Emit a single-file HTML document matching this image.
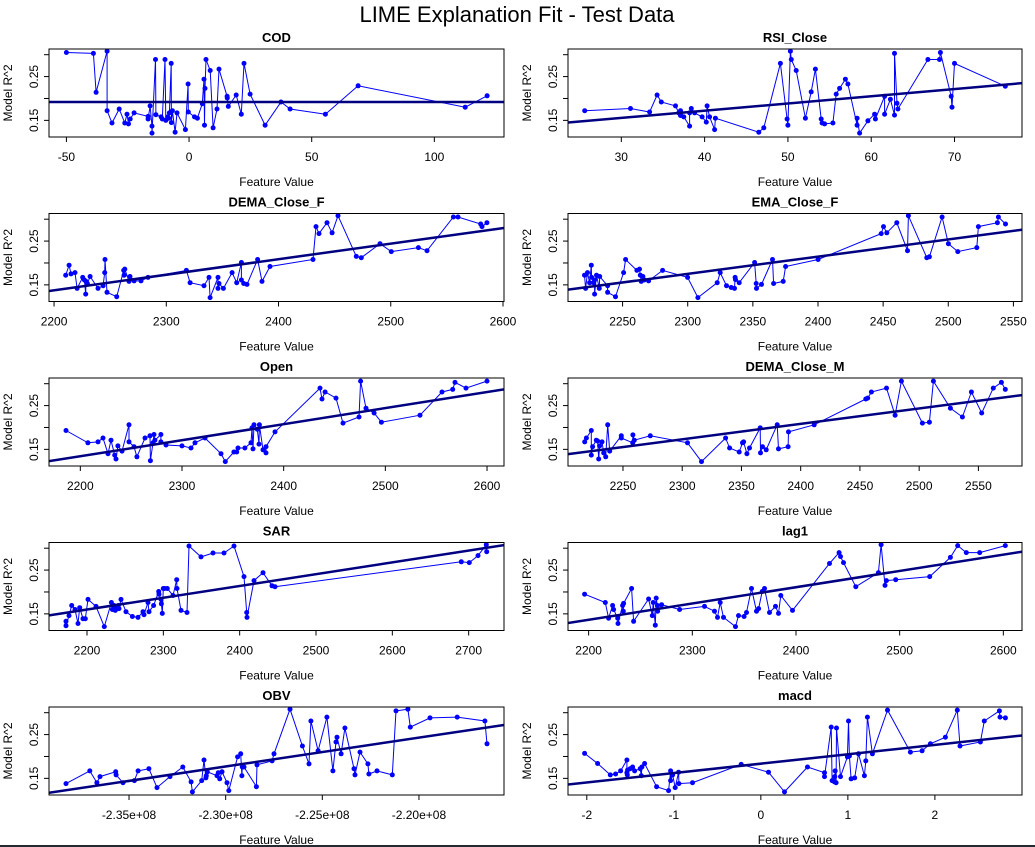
<!DOCTYPE html>
<html><head><meta charset="utf-8"><title>LIME Explanation Fit - Test Data</title>
<style>
html,body{margin:0;padding:0;background:#fff;}
svg{display:block;font-family:"Liberation Sans",Arial,sans-serif;}
</style></head>
<body>
<svg id="chart" width="1035" height="847" viewBox="0 0 1035 847" xmlns="http://www.w3.org/2000/svg">
<rect x="0" y="0" width="1035" height="847" fill="#fff"/>
<text x="517" y="22" text-anchor="middle" font-size="22" fill="#000">LIME Explanation Fit - Test Data</text>
<rect x="0" y="845" width="1035" height="2" fill="#222a33"/>
</svg>
<script>
// ---- data ----
const yTicks = [0.15, 0.20, 0.25, 0.30];
const yTickLabels = ["0.15", "", "0.25", ""];
const yDomain = [0.112, 0.313];

const codX = [-50,-39,-37.9,-33.4,-33.4,-31.4,-28.5,-26.2,-25.3,-24.7,-24,-22.4,-16.7,-16.7,-15.9,-15.1,-15.1,-13.7,-13.5,-11.4,-10.9,-9.8,-9.5,-8.7,-8.3,-8,-7.3,-7.2,-6.8,-5.7,-4.9,-1.5,-0.4,-0.3,2.2,3.4,5.4,6.1,6.3,6.5,6.9,8.6,9.8,11.4,12.2,15.5,15.6,16,19.2,21.3,22.4,24.9,31,37.5,41.2,55.6,68.9,112.6,121.5];
const codY = [.305,.303,.214,.308,.172,.144,.176,.144,.164,.142,.153,.167,.159,.153,.183,.137,.121,.289,.163,.158,.153,.289,.150,.158,.155,.167,.280,.145,.172,.123,.167,.129,.233,.169,.158,.155,.188,.244,.139,.223,.289,.264,.133,.176,.267,.205,.201,.182,.208,.164,.280,.210,.139,.192,.176,.164,.229,.180,.206];
const codTicks = [-50,0,50,100];
const codXDomain = [-57.1,128.4];
const codFit = [.192,.192];

const rsiX = [25.6,31.1,33.4,34.3,34.8,36.5,36.9,37.1,37.1,37.5,38.2,38.2,38.4,38.8,39.7,40.2,40.3,40.6,41.2,41.3,46.5,47.1,49.1,49.9,50,50.3,50.4,51,52.1,52.8,53.3,54,54.1,54.4,55.4,55.8,56.2,56.9,57.2,58.3,58.3,58.6,59.6,60.4,60.5,61.6,61.6,62.3,62.8,62.8,63.1,63.2,66.8,68.2,68.3,69.6,69.7,70,76.1];
const rsiY = [.172,.177,.169,.208,.192,.183,.167,.161,.172,.158,.137,.167,.177,.167,.158,.146,.183,.158,.129,.155,.123,.133,.280,.153,.139,.308,.289,.264,.155,.215,.267,.153,.144,.142,.144,.210,.223,.244,.233,.139,.155,.121,.149,.164,.153,.205,.164,.198,.162,.303,.189,.176,.289,.289,.305,.205,.180,.280,.228];
const rsiTicks = [30,40,50,60,70];
const rsiXDomain = [23.6,78.1];
const rsiFit = [.145,.235];

const demaFX = [2210.4,2213.4,2215.1,2218.7,2220.5,2225.5,2227,2228.2,2228.5,2229.7,2232.1,2239.2,2243.7,2245.1,2245.4,2247.2,2255.8,2262.1,2262.4,2263,2266.8,2267.7,2271.3,2277.5,2283.7,2317.9,2321.2,2333.6,2338.1,2339,2346.1,2346.1,2347,2350.9,2358.6,2362.7,2366.9,2366.9,2369,2371.9,2381.4,2385.3,2392.4,2430.7,2433.4,2436.1,2443.2,2447.7,2453,2469.3,2473.8,2490.4,2500.5,2524.6,2532.3,2555.8,2559.9,2580.1,2581.3,2585.7];
const demaFY = [.172,.195,.175,.178,.142,.167,.161,.129,.158,.153,.169,.142,.148,.178,.208,.133,.123,.183,.172,.186,.158,.169,.159,.159,.167,.183,.155,.148,.167,.121,.167,.142,.153,.142,.178,.155,.201,.161,.153,.151,.208,.158,.192,.208,.283,.267,.292,.269,.308,.215,.212,.244,.226,.235,.228,.305,.305,.289,.283,.292];
const demaFTicks = [2200,2300,2400,2500,2600];
const demaFXDomain = [2195.5,2600.9];
const demaFFit = [.136,.280];

const emaFX = [2220.8,2221.6,2223.1,2224.7,2226,2226.2,2227.7,2228.5,2228.5,2230,2232.1,2232.4,2238.5,2238.5,2244.6,2250.8,2252.3,2261,2263,2263.6,2264.3,2265.6,2266.6,2270,2280.7,2299.9,2307.8,2322.6,2324.9,2329.8,2333.4,2335.9,2336.4,2336.7,2339.5,2351.3,2352.6,2352.8,2356.6,2365.1,2365.9,2373.3,2375.1,2400.1,2448.5,2450.3,2452.8,2460.5,2468.7,2469.4,2483.5,2485.5,2495.3,2500.1,2507.3,2521.9,2523.1,2537.7,2538.5,2543.9];
const emaFY = [.172,.142,.178,.155,.195,.167,.155,.161,.129,.172,.142,.169,.148,.133,.123,.178,.208,.183,.186,.172,.158,.169,.161,.159,.183,.167,.121,.155,.178,.148,.144,.142,.167,.162,.155,.201,.153,.142,.151,.208,.153,.158,.192,.208,.267,.283,.269,.292,.228,.308,.212,.214,.305,.244,.226,.235,.283,.292,.305,.289];
const emaFTicks = [2250,2300,2350,2400,2450,2500,2550];
const emaFXDomain = [2208.1,2556.6];
const emaFFit = [.139,.276];

const openX = [2185.9,2207.5,2217.4,2222.3,2227.2,2230.2,2233.8,2235.1,2237,2241,2247.9,2247.9,2252.8,2255.7,2263.6,2268.5,2268.9,2271.5,2272.5,2273.4,2279.3,2279.3,2284.3,2300,2308.9,2312.8,2322.6,2338.4,2342.6,2351.1,2353.8,2355.1,2361.9,2367.9,2368.9,2369.8,2370.8,2374.1,2375.7,2376.1,2379.7,2382.6,2382.6,2391.5,2435.7,2437.7,2440.7,2451.5,2458.4,2474.1,2475.7,2481,2488.9,2496.1,2534.1,2555.7,2566.2,2568.5,2579.3,2600];
const openY = [.193,.165,.167,.176,.140,.171,.137,.128,.158,.146,.206,.167,.156,.133,.176,.181,.124,.165,.184,.171,.184,.167,.160,.158,.153,.165,.176,.140,.122,.144,.144,.153,.153,.165,.199,.151,.206,.196,.162,.206,.149,.142,.156,.190,.290,.265,.281,.267,.210,.224,.306,.244,.233,.212,.228,.281,.287,.303,.290,.306];
const openTicks = [2200,2300,2400,2500,2600];
const openXDomain = [2169.2,2616.7];
const openFit = [.123,.287];

const demaMX = [2217.7,2219.1,2223.3,2223.3,2224.4,2227.5,2228.6,2229.5,2230.3,2232.3,2233.7,2235.4,2237.1,2238.8,2248.6,2248.6,2258.2,2258.4,2259.6,2273.1,2304.5,2316.3,2336.6,2340,2348.1,2350.9,2351.8,2354.6,2356.8,2365.8,2366.1,2367.8,2370.9,2380.2,2381.3,2389.4,2389.7,2411.4,2455,2456.6,2459.7,2472.4,2479.7,2485,2502.7,2508.6,2512,2526.4,2536.5,2544.1,2552.8,2562.6,2569.4,2572.7];
const demaMY = [.167,.176,.193,.137,.156,.171,.169,.128,.158,.167,.142,.133,.206,.146,.181,.176,.165,.183,.171,.181,.165,.122,.176,.153,.144,.165,.167,.140,.153,.199,.142,.156,.149,.206,.151,.156,.190,.206,.265,.267,.281,.290,.228,.306,.210,.212,.306,.244,.224,.281,.233,.290,.303,.287];
const demaMTicks = [2250,2300,2350,2400,2450,2500,2550];
const demaMXDomain = [2203.6,2586.8];
const demaMFit = [.139,.274];

const sarX = [2172.5,2172.5,2176.4,2179.9,2184.3,2188.2,2190.4,2194.8,2197.8,2201.3,2211.8,2222.7,2231.9,2233.2,2235.4,2237.1,2238.4,2241,2241.9,2244.5,2251.1,2259.4,2266.8,2273.4,2274.7,2279.9,2281.2,2287.3,2293.9,2294.3,2296.9,2297.4,2298.7,2300,2301.7,2305.2,2312.7,2317.5,2317.9,2323.1,2331,2333.6,2349.3,2365.1,2379.5,2392.6,2405.7,2409.2,2409.6,2418.8,2430.6,2442.4,2446.3,2690.4,2700.9,2712.2,2723.1,2723.6];
const sarY = [.133,.123,.146,.169,.160,.128,.164,.139,.139,.183,.167,.121,.176,.160,.169,.158,.162,.169,.162,.183,.155,.144,.142,.155,.148,.176,.155,.169,.201,.195,.183,.173,.151,.208,.208,.208,.192,.228,.208,.158,.153,.305,.280,.289,.289,.305,.235,.153,.142,.226,.244,.214,.212,.269,.267,.283,.308,.292];
const sarTicks = [2200,2300,2400,2500,2600,2700];
const sarXDomain = [2150.2,2746.3];
const sarFit = [.1465,.307];

const lagX = [2196.1,2216.1,2219.3,2223.1,2224.1,2228,2228.3,2232.8,2233.4,2233.7,2241.4,2243.4,2257.8,2261.4,2262.3,2264.3,2265.2,2266.2,2266.5,2270.4,2287.7,2311.8,2321.4,2324.3,2326.9,2330.1,2341.7,2344.6,2350,2352.3,2357.1,2361.9,2363.9,2367.4,2369.6,2374.5,2380.2,2383.1,2385.4,2396.6,2432.3,2441.6,2442.9,2445.8,2457.7,2479.5,2482.1,2485.9,2487.2,2496.2,2529,2548.9,2556,2564.3,2577.2,2601.9];
const lagY = [.195,.176,.140,.169,.160,.140,.128,.169,.156,.174,.208,.133,.184,.146,.176,.124,.186,.169,.156,.171,.160,.167,.156,.142,.176,.142,.121,.146,.144,.153,.208,.156,.162,.201,.208,.153,.167,.151,.192,.158,.265,.290,.281,.267,.212,.244,.308,.215,.226,.228,.235,.279,.306,.290,.290,.306];
const lagTicks = [2200,2300,2400,2500,2600];
const lagXDomain = [2180.1,2618];
const lagFit = [.129,.292];

// OBV values in units of 1e8
const obvX = [-2.3826,-2.3703,-2.3666,-2.3650,-2.3569,-2.3567,-2.3531,-2.3472,-2.3453,-2.3397,-2.3355,-2.3288,-2.3222,-2.3179,-2.3172,-2.3124,-2.3112,-2.3102,-2.3100,-2.3095,-2.3045,-2.3038,-2.3031,-2.3019,-2.2993,-2.2984,-2.2938,-2.2922,-2.2916,-2.2914,-2.2905,-2.2841,-2.2838,-2.2760,-2.2750,-2.2667,-2.2603,-2.2569,-2.2559,-2.2522,-2.2476,-2.2445,-2.2429,-2.2424,-2.2403,-2.2383,-2.2336,-2.2331,-2.2305,-2.2264,-2.2259,-2.2217,-2.2138,-2.2119,-2.2057,-2.2045,-2.1943,-2.1802,-2.1659,-2.1648];
const obvY = [.138,.167,.140,.154,.165,.158,.140,.145,.167,.172,.129,.154,.176,.142,.119,.145,.192,.151,.156,.165,.156,.163,.149,.165,.140,.122,.199,.206,.156,.176,.176,.131,.181,.190,.206,.308,.224,.183,.281,.213,.290,.167,.233,.244,.206,.265,.172,.158,.210,.183,.160,.167,.158,.304,.308,.267,.288,.290,.281,.229];
const obvTicks = [-2.35,-2.30,-2.25,-2.20];
const obvTickLabels = ["-2.35e+08","-2.30e+08","-2.25e+08","-2.20e+08"];
const obvXDomain = [-2.3914,-2.156];
const obvFit = [.117,.272];

const macdX = [-2.025,-1.876,-1.730,-1.669,-1.611,-1.539,-1.539,-1.535,-1.531,-1.501,-1.474,-1.451,-1.386,-1.374,-1.367,-1.336,-1.198,-1.060,-1.037,-1.037,-1.014,-0.984,-0.945,-0.942,-0.785,-0.226,0.088,0.272,0.536,0.731,0.731,0.808,0.819,0.846,0.850,0.854,0.865,0.869,0.915,0.995,1.007,1.018,1.037,1.079,1.122,1.190,1.206,1.225,1.282,1.455,1.719,1.853,1.948,2.121,2.258,2.289,2.523,2.568,2.741,2.748,2.810];
const macdY = [.207,.184,.158,.160,.167,.192,.163,.158,.169,.172,.176,.167,.172,.156,.176,.184,.131,.122,.167,.145,.158,.129,.164,.138,.140,.182,.164,.119,.176,.163,.154,.267,.145,.142,.154,.167,.140,.265,.154,.199,.281,.201,.149,.151,.206,.156,.190,.290,.206,.306,.210,.213,.229,.244,.306,.224,.233,.281,.304,.290,.288];
const macdTicks = [-2,-1,0,1,2];
const macdXDomain = [-2.216,3.001];
const macdFit = [.136,.248];

const panelNames = ["COD","RSI_Close","DEMA_Close_F","EMA_Close_F","Open","DEMA_Close_M","SAR","lag1","OBV","macd"];

// ---- drawing ----
const NS = "http://www.w3.org/2000/svg";
const svg = document.getElementById("chart");
function mk(tag, attrs, parent){
  const e = document.createElementNS(NS, tag);
  for (const k in attrs) e.setAttribute(k, attrs[k]);
  (parent || svg).appendChild(e);
  return e;
}
const panels = [
  {xs:codX, ys:codY, ticks:codTicks, dom:codXDomain, fit:codFit},
  {xs:rsiX, ys:rsiY, ticks:rsiTicks, dom:rsiXDomain, fit:rsiFit},
  {xs:demaFX, ys:demaFY, ticks:demaFTicks, dom:demaFXDomain, fit:demaFFit},
  {xs:emaFX, ys:emaFY, ticks:emaFTicks, dom:emaFXDomain, fit:emaFFit},
  {xs:openX, ys:openY, ticks:openTicks, dom:openXDomain, fit:openFit},
  {xs:demaMX, ys:demaMY, ticks:demaMTicks, dom:demaMXDomain, fit:demaMFit},
  {xs:sarX, ys:sarY, ticks:sarTicks, dom:sarXDomain, fit:sarFit},
  {xs:lagX, ys:lagY, ticks:lagTicks, dom:lagXDomain, fit:lagFit},
  {xs:obvX, ys:obvY, ticks:obvTicks, dom:obvXDomain, fit:obvFit, labels:obvTickLabels},
  {xs:macdX, ys:macdY, ticks:macdTicks, dom:macdXDomain, fit:macdFit}
];

panels.forEach((p, i) => {
  const col = i % 2, row = Math.floor(i / 2);
  const L = col === 0 ? 49 : 568, R = col === 0 ? 504 : 1022;
  const T = 49 + 164.5 * row, B = T + 88;
  const sx = v => L + (v - p.dom[0]) / (p.dom[1] - p.dom[0]) * (R - L);
  const sy = v => B - (v - yDomain[0]) / (yDomain[1] - yDomain[0]) * (B - T);
  const slug = panelNames[i].toLowerCase().replace(/_/g, '-');
  const g = mk("g", {});
  
  

  const cid = "clip" + i;
  const cp = mk("clipPath", {id: cid}, g);
  mk("rect", {x: L, y: T, width: R - L, height: B - T}, cp);

  const title = mk("text", {x: (L + R) / 2, y: T - 7, "text-anchor": "middle", "font-size": 13, "font-weight": "bold"}, g);
  title.textContent = panelNames[i];
  
  

  // series line (sorted by x)
  const idx = p.xs.map((_, k) => k).sort((a, b) => p.xs[a] - p.xs[b]);
  const d = idx.map((k, j) => (j ? "L" : "M") + sx(p.xs[k]).toFixed(1) + " " + sy(p.ys[k]).toFixed(1)).join("");
  const line = mk("path", {d: d, fill: "none", stroke: "#0000ff", "stroke-width": 1, "clip-path": "url(#" + cid + ")"}, g);
  
  

  idx.forEach(k => {
    const c = mk("circle", {cx: sx(p.xs[k]).toFixed(1), cy: sy(p.ys[k]).toFixed(1), r: 2.5, fill: "#0000ff"}, g);
    
    
  });

  // regression line
  const fl = mk("line", {x1: sx(p.dom[0]), y1: sy(p.fit[0]), x2: sx(p.dom[1]), y2: sy(p.fit[1]), stroke: "#000080", "stroke-width": 2.5, "clip-path": "url(#" + cid + ")"}, g);
  
  

  const box = mk("rect", {x: L, y: T, width: R - L, height: B - T, fill: "none", stroke: "#000", "stroke-width": 1}, g);
  
  

  // x axis
  p.ticks.forEach((t, k) => {
    const x = sx(t);
    const tk = mk("line", {x1: x, y1: B, x2: x, y2: B + 5, stroke: "#000"}, g);
    
    
    const lb = mk("text", {x: x, y: B + 24, "text-anchor": "middle", "font-size": 12}, g);
    lb.textContent = p.labels ? p.labels[k] : String(t);
    
    
  });
  const xt = mk("text", {x: (L + R) / 2, y: B + 49, "text-anchor": "middle", "font-size": 12}, g);
  xt.textContent = "Feature Value";
  
  

  // y axis
  yTicks.forEach((t, k) => {
    const y = sy(t);
    const tk = mk("line", {x1: L - 5, y1: y, x2: L, y2: y, stroke: "#000"}, g);
    
    
    if (yTickLabels[k]) {
      const lx = L - 11;
      const lb = mk("text", {x: lx, y: y, "text-anchor": "middle", "font-size": 12, transform: "rotate(-90 " + lx + " " + y + ")"}, g);
      lb.textContent = yTickLabels[k];
      
      
    }
  });
  const yx = L - 37, yy = (T + B) / 2;
  const yt = mk("text", {x: yx, y: yy, "text-anchor": "middle", "font-size": 12, transform: "rotate(-90 " + yx + " " + yy + ")"}, g);
  yt.textContent = "Model R^2";
  
  
});
</script>
</body></html>
